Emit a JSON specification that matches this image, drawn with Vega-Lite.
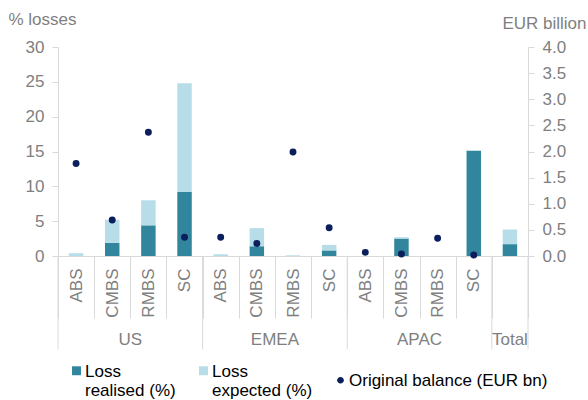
{
  "$schema": "https://vega.github.io/schema/vega-lite/v6.json",
  "width": 470,
  "height": 209,
  "autosize": "none",
  "padding": {"left": 58, "top": 47, "right": 60, "bottom": 144},
  "background": "white",
  "config": {
    "view": {"stroke": null},
    "font": "Liberation Sans",
    "axis": {"labelFont": "Liberation Sans", "titleFont": "Liberation Sans", "labelFontSize": 17, "titleFontSize": 17, "labelColor": "#7f7f7f", "titleColor": "#7f7f7f", "titleFontWeight": "normal", "domainColor": "#d9d9d9", "tickColor": "#d9d9d9", "grid": false, "labelOverlap": false},
    "legend": {"labelFont": "Liberation Sans", "labelFontSize": 17, "labelColor": "#000000", "labelLimit": 400}
  },
  "datasets": {
    "bars": [
      {"cat": "US|ABS", "series": "Loss realised (%)", "value": 0},
      {"cat": "US|ABS", "series": "Loss expected (%)", "value": 0.4},
      {"cat": "US|CMBS", "series": "Loss realised (%)", "value": 1.9},
      {"cat": "US|CMBS", "series": "Loss expected (%)", "value": 3.3},
      {"cat": "US|RMBS", "series": "Loss realised (%)", "value": 4.4},
      {"cat": "US|RMBS", "series": "Loss expected (%)", "value": 3.6},
      {"cat": "US|SC", "series": "Loss realised (%)", "value": 9.2},
      {"cat": "US|SC", "series": "Loss expected (%)", "value": 15.6},
      {"cat": "EMEA|ABS", "series": "Loss realised (%)", "value": 0},
      {"cat": "EMEA|ABS", "series": "Loss expected (%)", "value": 0.25},
      {"cat": "EMEA|CMBS", "series": "Loss realised (%)", "value": 1.4},
      {"cat": "EMEA|CMBS", "series": "Loss expected (%)", "value": 2.6},
      {"cat": "EMEA|RMBS", "series": "Loss realised (%)", "value": 0},
      {"cat": "EMEA|RMBS", "series": "Loss expected (%)", "value": 0.1},
      {"cat": "EMEA|SC", "series": "Loss realised (%)", "value": 0.8},
      {"cat": "EMEA|SC", "series": "Loss expected (%)", "value": 0.8},
      {"cat": "APAC|ABS", "series": "Loss realised (%)", "value": 0},
      {"cat": "APAC|ABS", "series": "Loss expected (%)", "value": 0},
      {"cat": "APAC|CMBS", "series": "Loss realised (%)", "value": 2.5},
      {"cat": "APAC|CMBS", "series": "Loss expected (%)", "value": 0.2},
      {"cat": "APAC|RMBS", "series": "Loss realised (%)", "value": 0},
      {"cat": "APAC|RMBS", "series": "Loss expected (%)", "value": 0},
      {"cat": "APAC|SC", "series": "Loss realised (%)", "value": 15.1},
      {"cat": "APAC|SC", "series": "Loss expected (%)", "value": 0},
      {"cat": "Total", "series": "Loss realised (%)", "value": 1.7},
      {"cat": "Total", "series": "Loss expected (%)", "value": 2.1}
    ],
    "points": [
      {"cat": "US|ABS", "series": "Original balance (EUR bn)", "balance": 1.77},
      {"cat": "US|CMBS", "series": "Original balance (EUR bn)", "balance": 0.69},
      {"cat": "US|RMBS", "series": "Original balance (EUR bn)", "balance": 2.37},
      {"cat": "US|SC", "series": "Original balance (EUR bn)", "balance": 0.36},
      {"cat": "EMEA|ABS", "series": "Original balance (EUR bn)", "balance": 0.36},
      {"cat": "EMEA|CMBS", "series": "Original balance (EUR bn)", "balance": 0.24},
      {"cat": "EMEA|RMBS", "series": "Original balance (EUR bn)", "balance": 1.99},
      {"cat": "EMEA|SC", "series": "Original balance (EUR bn)", "balance": 0.54},
      {"cat": "APAC|ABS", "series": "Original balance (EUR bn)", "balance": 0.07},
      {"cat": "APAC|CMBS", "series": "Original balance (EUR bn)", "balance": 0.04},
      {"cat": "APAC|RMBS", "series": "Original balance (EUR bn)", "balance": 0.34},
      {"cat": "APAC|SC", "series": "Original balance (EUR bn)", "balance": 0.02}
    ],
    "groups": [
      {"cat": "US|RMBS", "label": "US"},
      {"cat": "EMEA|RMBS", "label": "EMEA"},
      {"cat": "APAC|RMBS", "label": "APAC"}
    ],
    "seps": [
      {"cat": "US|ABS"},
      {"cat": "EMEA|ABS"},
      {"cat": "APAC|ABS"},
      {"cat": "Total"}
    ]
  },
  "layer": [
    {
      "layer": [
        {
          "data": {"name": "bars"},
          "mark": {"type": "bar", "width": {"band": 0.4}},
          "encoding": {
            "x": {"field": "cat", "type": "nominal", "sort": null,
              "scale": {"domain": ["US|ABS","US|CMBS","US|RMBS","US|SC","EMEA|ABS","EMEA|CMBS","EMEA|RMBS","EMEA|SC","APAC|ABS","APAC|CMBS","APAC|RMBS","APAC|SC","Total"], "paddingInner": 0, "paddingOuter": 0},
              "axis": {"title": null, "labelAngle": 270, "labelAlign": "right", "labelBaseline": "middle", "tickBand": "extent", "tickSize": 62, "labelPadding": -50,
                "labelExpr": "isString(datum.label) && indexof(datum.label, '|') > 0 ? split(datum.label, '|')[1] : ''"}},
            "y": {"field": "value", "type": "quantitative", "stack": "zero",
              "scale": {"domain": [0, 30]},
              "axis": {"title": "% losses", "values": [0,5,10,15,20,25,30], "labelOverlap": false, "tickSize": 6, "labelPadding": 8, "titleAngle": 0, "titleAlign": "left", "titleBaseline": "middle", "titleX": -50, "titleY": -28}},
            "color": {"field": "series", "type": "nominal",
              "scale": {"domain": ["Loss realised (%)", "Loss expected (%)", "Original balance (EUR bn)"], "range": ["#31859c", "#b7dde8", "#0b1f5c"]},
              "legend": {"title": null, "orient": "none", "direction": "horizontal", "legendX": 10, "legendY": 321, "symbolSize": 80, "symbolStrokeWidth": 0, "columnPadding": 19, "labelBaseline": "alphabetic", "labelOffset": 0,
                "labelExpr": "datum.label == 'Loss realised (%)' ? ['Loss', 'realised (%)'] : datum.label == 'Loss expected (%)' ? ['Loss', 'expected (%)'] : datum.label"}},
            "order": {"field": "series", "type": "nominal", "sort": "descending"}
          }
        },
        {
          "data": {"name": "seps"},
          "mark": {"type": "rule", "color": "#d9d9d9", "strokeWidth": 1},
          "encoding": {
            "x": {"field": "cat", "type": "nominal", "bandPosition": 0},
            "y": {"datum": 0, "type": "quantitative",
              "axis": {"title": "% losses", "values": [0,5,10,15,20,25,30], "labelOverlap": false, "tickSize": 6, "labelPadding": 8, "titleAngle": 0, "titleAlign": "left", "titleBaseline": "middle", "titleX": -50, "titleY": -28}},
            "y2": {"datum": -13.4}
          }
        },
        {
          "data": {"values": [{"cat": "Total"}]},
          "mark": {"type": "rule", "color": "#d9d9d9", "strokeWidth": 1},
          "encoding": {
            "x": {"field": "cat", "type": "nominal", "bandPosition": 1},
            "y": {"datum": 0, "type": "quantitative",
              "axis": {"title": "% losses", "values": [0,5,10,15,20,25,30], "labelOverlap": false, "tickSize": 6, "labelPadding": 8, "titleAngle": 0, "titleAlign": "left", "titleBaseline": "middle", "titleX": -50, "titleY": -28}},
            "y2": {"datum": -13.4}
          }
        },
        {
          "data": {"name": "groups"},
          "mark": {"type": "text", "fontSize": 17, "color": "#7f7f7f", "baseline": "middle", "align": "center"},
          "encoding": {
            "x": {"field": "cat", "type": "nominal", "bandPosition": 0},
            "y": {"datum": -12.0, "type": "quantitative",
              "axis": {"title": "% losses", "values": [0,5,10,15,20,25,30], "labelOverlap": false, "tickSize": 6, "labelPadding": 8, "titleAngle": 0, "titleAlign": "left", "titleBaseline": "middle", "titleX": -50, "titleY": -28}},
            "text": {"field": "label"}
          }
        },
        {
          "data": {"values": [{"cat": "Total", "label": "Total"}]},
          "mark": {"type": "text", "fontSize": 17, "color": "#7f7f7f", "baseline": "middle", "align": "center"},
          "encoding": {
            "x": {"field": "cat", "type": "nominal", "bandPosition": 0.5},
            "y": {"datum": -12.0, "type": "quantitative",
              "axis": {"title": "% losses", "values": [0,5,10,15,20,25,30], "labelOverlap": false, "tickSize": 6, "labelPadding": 8, "titleAngle": 0, "titleAlign": "left", "titleBaseline": "middle", "titleX": -50, "titleY": -28}},
            "text": {"field": "label"}
          }
        }
      ]
    },
    {
      "data": {"name": "points"},
      "mark": {"type": "point", "filled": true, "opacity": 1, "size": 48, "shape": "circle"},
      "encoding": {
        "x": {"field": "cat", "type": "nominal", "sort": null},
        "y": {"field": "balance", "type": "quantitative",
          "scale": {"domain": [0, 4]},
          "axis": {"orient": "right", "title": "EUR billion", "values": [0,0.5,1,1.5,2,2.5,3,3.5,4], "format": ".1f", "tickSize": 6, "labelPadding": 8, "titleAngle": 0, "titleAlign": "right", "titleBaseline": "middle", "titleX": 58, "titleY": -24}},
        "color": {"field": "series", "type": "nominal"}
      }
    },
    {
      "data": {"values": []},
      "mark": {"type": "point", "filled": true, "opacity": 1},
      "encoding": {
        "color": {"field": "series", "type": "nominal"},
        "shape": {"field": "series", "type": "nominal",
          "scale": {"domain": ["Loss realised (%)", "Loss expected (%)", "Original balance (EUR bn)"], "range": ["M-1,-2.34L1,-2.34L1,-0.34L-1,-0.34Z", "M-1,-2.34L1,-2.34L1,-0.34L-1,-0.34Z", "M-0.75,-1.34A0.75,0.75,0,1,0,0.75,-1.34A0.75,0.75,0,1,0,-0.75,-1.34Z"]},
          "legend": {"title": null, "orient": "none", "direction": "horizontal", "legendX": 10, "legendY": 321, "symbolSize": 80, "symbolStrokeWidth": 0, "columnPadding": 19, "labelBaseline": "alphabetic", "labelOffset": 0}}
      }
    }
  ],
  "resolve": {"scale": {"y": "independent"}}
}
